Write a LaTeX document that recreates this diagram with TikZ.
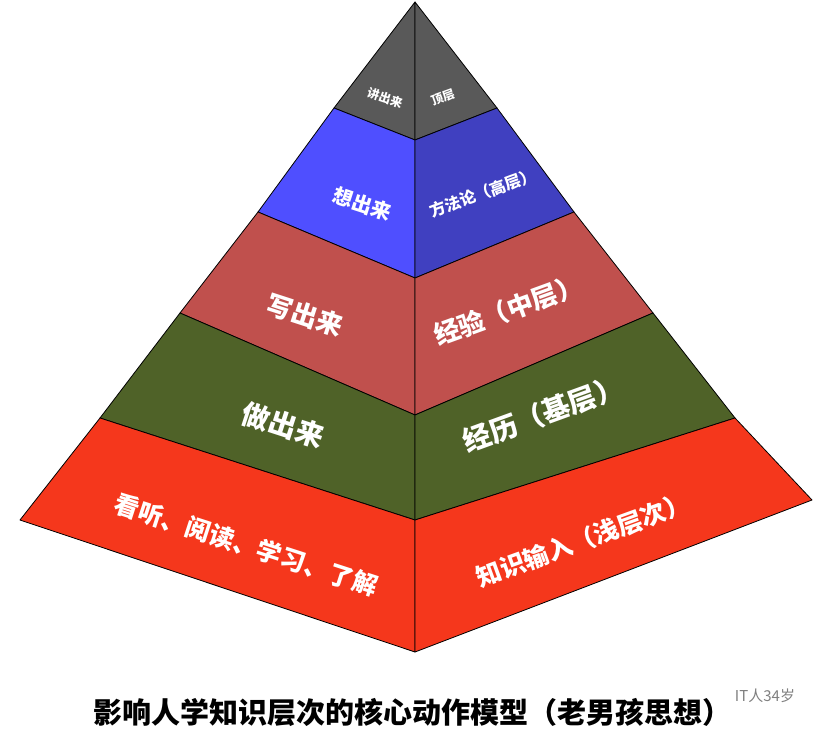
\documentclass[tikz,border=0pt]{standalone}
\usepackage{fontspec}
\setmainfont{Noto Sans CJK SC}[BoldFont={Noto Sans CJK SC Black}]
\begin{document}
\begin{tikzpicture}[x=1pt,y=-1pt,
  face/.style={draw=black,line width=0.8pt,line join=round},
  lbl/.style={text=white,font=\bfseries,inner sep=0pt}]
\useasboundingbox (0,0) rectangle (829,735);
\fill[white] (0,0) rectangle (829,735);
\coordinate (A) at (415,2);
\coordinate (L1) at (334,108); \coordinate (C1) at (415,140); \coordinate (R1) at (497,108);
\coordinate (L2) at (258,212); \coordinate (C2) at (415,278); \coordinate (R2) at (574,212);
\coordinate (L3) at (180,313); \coordinate (C3) at (415,415); \coordinate (R3) at (653,313);
\coordinate (L4) at (100,418); \coordinate (C4) at (415,520); \coordinate (R4) at (735,418);
\coordinate (L5) at (20,520); \coordinate (C5) at (415,652); \coordinate (R5) at (812,500);
\definecolor{gr}{HTML}{595959}\definecolor{bl}{HTML}{4F4FFF}\definecolor{bld}{HTML}{4040C0}
\definecolor{rd}{HTML}{C0504D}\definecolor{gn}{HTML}{4F6228}\definecolor{br}{HTML}{F5371C}
\path[face,fill=gr] (A)--(L1)--(C1)--cycle; \path[face,fill=gr] (A)--(R1)--(C1)--cycle;
\path[face,fill=bl] (L1)--(L2)--(C2)--(C1)--cycle; \path[face,fill=bld] (R1)--(R2)--(C2)--(C1)--cycle;
\path[face,fill=rd] (L2)--(L3)--(C3)--(C2)--cycle; \path[face,fill=rd] (R2)--(R3)--(C3)--(C2)--cycle;
\path[face,fill=gn] (L3)--(L4)--(C4)--(C3)--cycle; \path[face,fill=gn] (R3)--(R4)--(C4)--(C3)--cycle;
\path[face,fill=br] (L4)--(L5)--(C5)--(C4)--cycle; \path[face,fill=br] (R4)--(R5)--(C5)--(C4)--cycle;
\node[lbl,font=\bfseries\fontsize{12}{12}\selectfont,rotate=-18] (t1) at (385,98) {讲出来};
\node[lbl,font=\bfseries\fontsize{12}{12}\selectfont,rotate=20] (t2) at (443,97) {顶层};
\node[lbl,font=\bfseries\fontsize{20}{20}\selectfont,rotate=-18] (t3) at (362,204) {想出来};
\node[lbl,font=\bfseries\fontsize{16}{16}\selectfont,rotate=20] (t4) at (483,193) {方法论（高层）};
\node[lbl,font=\bfseries\fontsize{26}{26}\selectfont,rotate=-18] (t5) at (305,315) {写出来};
\node[lbl,font=\bfseries\fontsize{26}{26}\selectfont,rotate=20] (t6) at (508,310) {经验（中层）};
\node[lbl,font=\bfseries\fontsize{28}{28}\selectfont,rotate=-18] (t7) at (283,425) {做出来};
\node[lbl,font=\bfseries\fontsize{28}{28}\selectfont,rotate=20] (t8) at (543,414) {经历（基层）};
\node[lbl,font=\bfseries\fontsize{25}{25}\selectfont,rotate=-18] (t9) at (246,545) {看听、阅读、学习、了解};
\node[lbl,font=\bfseries\fontsize{25}{25}\selectfont,rotate=20] (t10) at (583,540) {知识输入（浅层次）};
\node[font=\bfseries\fontsize{29}{29}\selectfont,inner sep=0pt] (title) at (412,712) {影响人学知识层次的核心动作模型（老男孩思想）};
\node[text=gray,font=\fontsize{15}{15}\selectfont,inner sep=0pt] (wm) at (765,696) {IT人34岁};
\end{tikzpicture}
\end{document}
